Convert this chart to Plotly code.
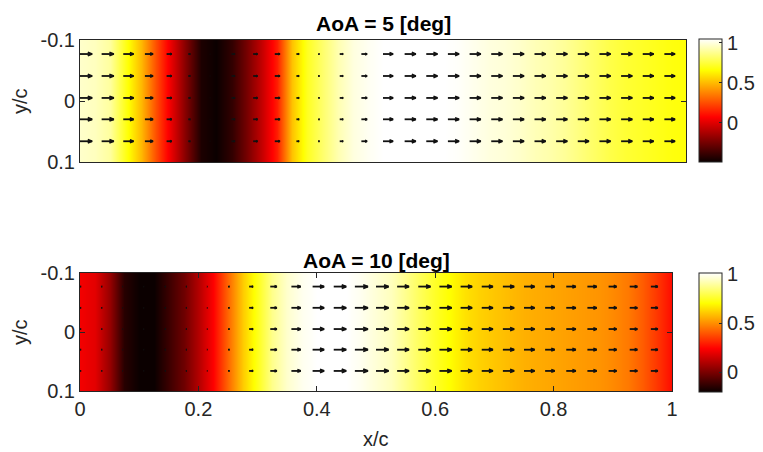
import plotly.graph_objects as go

W, H = 763, 452

# ---------------- data ----------------
# colour field (normalised streamwise velocity) sampled along x/c
x_field = [0.0, 0.025, 0.05, 0.075, 0.1, 0.125, 0.15, 0.175, 0.2, 0.225,
           0.25, 0.275, 0.3, 0.325, 0.35, 0.375, 0.4, 0.425, 0.45, 0.475,
           0.5, 0.525, 0.55, 0.575, 0.6, 0.625, 0.65, 0.675, 0.7, 0.725,
           0.75, 0.775, 0.8, 0.825, 0.85, 0.875, 0.9, 0.925, 0.95, 0.975, 1.0]
y_field = [-0.1, 0.1]

field_aoa5 = [0.97, 0.95, 0.90, 0.70, 0.50, 0.25, 0.02, -0.22, -0.45, -0.49,
              -0.40, -0.24, -0.06, 0.14, 0.52, 0.71, 0.82, 0.93, 1.00, 1.03,
              1.05, 1.05, 1.05, 1.05, 1.05, 1.04, 1.02, 1.00, 0.99, 0.97,
              0.94, 0.92, 0.89, 0.85, 0.81, 0.77, 0.74, 0.72, 0.70, 0.68, 0.67]

field_aoa10 = [0.22, 0.19, 0.05, -0.15, -0.20, -0.20, -0.11, -0.02, 0.10, 0.24,
               0.43, 0.61, 0.74, 0.87, 0.95, 0.99, 1.01, 1.01, 1.01, 0.99,
               0.96, 0.93, 0.87, 0.81, 0.75, 0.70, 0.65, 0.62, 0.60, 0.58,
               0.56, 0.55, 0.54, 0.53, 0.52, 0.51, 0.49, 0.46, 0.41, 0.34, 0.26]

# quiver grid
x_quiver = [0.0, 0.0357, 0.0714, 0.1071, 0.1429, 0.1786, 0.2143, 0.25, 0.2857,
            0.3214, 0.3571, 0.3929, 0.4286, 0.4643, 0.5, 0.5357, 0.5714, 0.6071,
            0.6429, 0.6786, 0.7143, 0.75, 0.7857, 0.8214, 0.8571, 0.8929,
            0.9286, 0.9643]
y_quiver = [-0.077, -0.041, -0.005, 0.030, 0.066]

u_aoa5 = [1.0, 1.0, 0.85, 0.67, 0.42, 0.17, 0.03, 0.28, 0.36, 0.42, 0.22, 0.11,
          0.28, 0.47, 0.83, 0.92, 0.92, 0.92, 0.92, 0.92, 0.92, 0.92, 0.92, 0.92,
          0.92, 0.92, 0.90, 0.88]
u_aoa10 = [0.08, 0.08, 0.04, 0.04, 0.08, 0.08, 0.04, 0.12, 0.33, 0.55, 0.78, 0.97,
           1.05, 1.10, 1.06, 1.00, 1.03, 1.03, 0.97, 0.94, 0.95, 0.89, 0.80, 0.80,
           0.78, 0.67, 0.64, 0.58]

y_ticks = [-0.1, 0, 0.1]
y_ticktext = ['-0.1', '0', '0.1']
x_ticks = [0, 0.2, 0.4, 0.6, 0.8, 1]
x_ticktext = ['0', '0.2', '0.4', '0.6', '0.8', '1']
cb_ticks = [0, 0.5, 1]
cb_ticktext = ['0', '0.5', '1']

titles = ['AoA = 5 [deg]', 'AoA = 10 [deg]']

# ---------------- style ----------------
FONT = 'Liberation Sans, Arial, Helvetica, sans-serif'
AX = '#262626'
hot = [[0.0, 'rgb(11,0,0)'], [0.365, 'rgb(255,0,0)'],
       [0.746, 'rgb(255,255,0)'], [1.0, 'rgb(255,255,255)']]
QSCALE = 0.02


def quiver_xy(xs, ys, us):
    qx, qy = [], []
    for y in ys:
        for x, u in zip(xs, us):
            L = u * QSCALE
            tip = x + L
            qx += [x, tip, None, tip - 0.36 * L, tip, tip - 0.36 * L, None]
            qy += [y, y, None, y - 0.14 * L, y, y + 0.14 * L, None]
    return qx, qy


def px2py(p):
    return 1 - p / H


fig = go.Figure()

panels = [
    dict(field=field_aoa5, u=u_aoa5, xa='x', ya='y',
         cb_y=px2py((39 + 162) / 2), cb_len=(162 - 39) / H),
    dict(field=field_aoa10, u=u_aoa10, xa='x2', ya='y2',
         cb_y=px2py((273 + 392) / 2), cb_len=(392 - 273) / H),
]

for p in panels:
    fig.add_trace(go.Heatmap(
        x=x_field, y=y_field, z=[p['field'], p['field']],
        colorscale=hot, zsmooth='best', xaxis=p['xa'], yaxis=p['ya'],
        hoverinfo='skip',
        colorbar=dict(
            x=699 / W, xanchor='left', xpad=0, y=p['cb_y'], yanchor='middle',
            ypad=0, len=p['cb_len'], lenmode='fraction', thickness=23,
            thicknessmode='pixels', tickvals=cb_ticks, ticktext=cb_ticktext,
            ticks='inside', ticklen=3, tickcolor=AX, outlinewidth=1,
            outlinecolor=AX, tickfont=dict(family=FONT, size=20, color=AX),
        ),
    ))
    qx, qy = quiver_xy(x_quiver, y_quiver, p['u'])
    fig.add_trace(go.Scatter(
        x=qx, y=qy, mode='lines', xaxis=p['xa'], yaxis=p['ya'],
        line=dict(color='#111111', width=1.8), hoverinfo='skip',
        showlegend=False,
    ))

axis_common = dict(showgrid=False, zeroline=False, showline=True, linecolor=AX,
                   linewidth=1, tickcolor=AX, ticklen=5, automargin=False,
                   tickfont=dict(family=FONT, size=20, color=AX))

fig.update_layout(
    width=W, height=H,
    margin=dict(l=0, r=0, t=0, b=0, pad=0, autoexpand=False),
    paper_bgcolor='white', plot_bgcolor='white', showlegend=False,
    xaxis=dict(domain=[80 / W, 686 / W], range=[0, 1], anchor='y',
               showticklabels=False, ticks='', mirror=True, **axis_common),
    yaxis=dict(domain=[px2py(162), px2py(40)], range=[0.1, -0.1], anchor='x',
               tickvals=y_ticks, ticktext=y_ticktext, ticks='inside',
               mirror='ticks', **axis_common),
    xaxis2=dict(domain=[80 / W, 672 / W], range=[0, 1], anchor='y2',
                tickvals=x_ticks, ticktext=x_ticktext, ticks='inside',
                mirror='ticks', **axis_common),
    yaxis2=dict(domain=[px2py(391), px2py(273)], range=[0.1, -0.1], anchor='x2',
                tickvals=y_ticks, ticktext=y_ticktext, ticks='inside',
                mirror='ticks', **axis_common),
)

ann_font = dict(family=FONT, size=20, color=AX)
annotations = [
    dict(text='<b>' + titles[0] + '</b>', x=(80 + 686) / 2 / W, y=px2py(24),
         font=dict(family=FONT, size=21, color='black')),
    dict(text='<b>' + titles[1] + '</b>', x=(80 + 672) / 2 / W, y=px2py(260),
         font=dict(family=FONT, size=21, color='black')),
    dict(text='y/c', x=20 / W, y=px2py(101), textangle=-90, font=ann_font),
    dict(text='y/c', x=20 / W, y=px2py(332), textangle=-90, font=ann_font),
    dict(text='x/c', x=376 / W, y=px2py(439), font=ann_font),
]
for a in annotations:
    a.update(xref='paper', yref='paper', showarrow=False,
             xanchor='center', yanchor='middle')
fig.update_layout(annotations=annotations)

fig.write_html('out.html',
               config={'displayModeBar': False},
               post_script="document.body.style.margin='0';"
                           "document.body.style.padding='0';")
